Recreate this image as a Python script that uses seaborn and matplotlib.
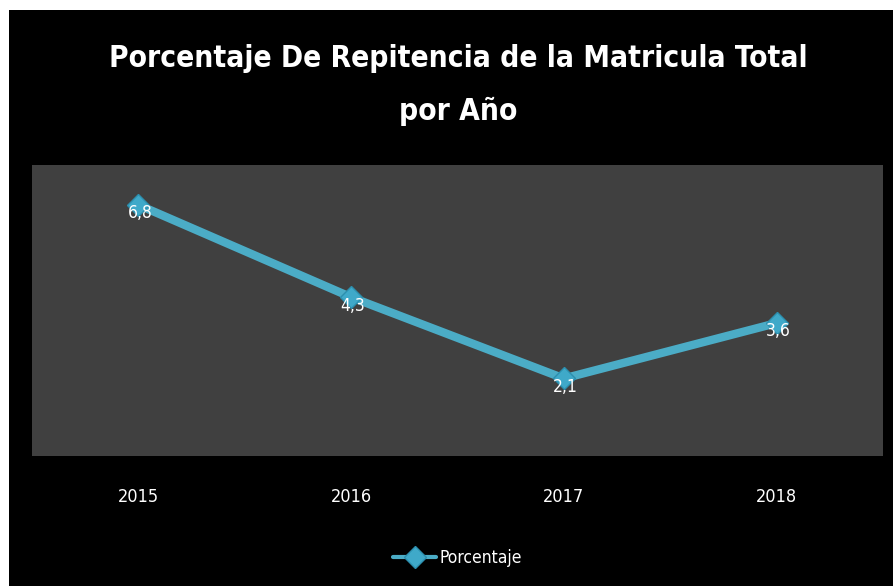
import matplotlib
matplotlib.use("Agg")
import matplotlib.pyplot as plt
import seaborn as sns
import pandas as pd

years = ["2015", "2016", "2017", "2018"]
porcentaje = [6.8, 4.3, 2.1, 3.6]
labels = ["6,8", "4,3", "2,1", "3,6"]
series_name = "Porcentaje"
title = "Porcentaje De Repitencia de la Matricula Total\npor Año"

sns.set_theme(style="dark")
plt.rcParams["font.family"] = ["DejaVu Sans"]

df = pd.DataFrame({"Año": years, series_name: porcentaje})

W, H = 893, 586
fig = plt.figure(figsize=(W / 100, H / 100), dpi=100, facecolor="white")
bg = fig.add_axes([9 / W, 0, (W - 9) / W, (H - 10) / H])
bg.set_facecolor("black")
bg.set_xticks([]); bg.set_yticks([])
for s in bg.spines.values():
    s.set_visible(False)

ax = fig.add_axes([32 / W, (H - 456) / H, (883 - 32) / W, (456 - 165) / H])
ax.set_facecolor("#404040")
color = "#4BACC6"
sns.lineplot(data=df, x="Año", y=series_name, ax=ax, color=color, linewidth=6,
             marker="D", markersize=11, markerfacecolor="#3FA9C9",
             markeredgecolor="#2C8FAE", markeredgewidth=1, label=series_name,
             sort=False)
ax.set_xlim(-0.5, 3.5)
ax.set_ylim(0, 7.88)
ax.set_yticks([])
ax.set_xlabel(""); ax.set_ylabel("")
ax.grid(False)
for s in ax.spines.values():
    s.set_visible(False)
ax.tick_params(axis="x", colors="white", labelsize=13, pad=23, length=0)
for lbl in ax.get_xticklabels():
    lbl.set_fontstretch("condensed")

for i, (v, t) in enumerate(zip(porcentaje, labels)):
    ax.annotate(t, (i, v), xytext=(1, -6), textcoords="offset points",
                color="white", fontsize=12.5, ha="center", va="center",
                fontstretch="condensed")

ttl = fig.text(458 / W, 1 - 85 / H, title, color="white", fontsize=26,
               fontweight="bold", fontstretch="condensed",
               ha="center", va="center", linespacing=2.0)
fig.canvas.draw()
w = ttl.get_window_extent().width
if w > 700:
    ttl.set_fontsize(26 * 700 / w)

leg = ax.legend(loc="center", bbox_to_anchor=(0.5, -0.35), frameon=False,
                fontsize=12.5, handlelength=2.5, handletextpad=0.2)
for t in leg.get_texts():
    t.set_color("white")
    t.set_fontstretch("condensed")
for l in leg.get_lines():
    l.set_linewidth(3)

fig.savefig("out.png", dpi=100, facecolor="white")
